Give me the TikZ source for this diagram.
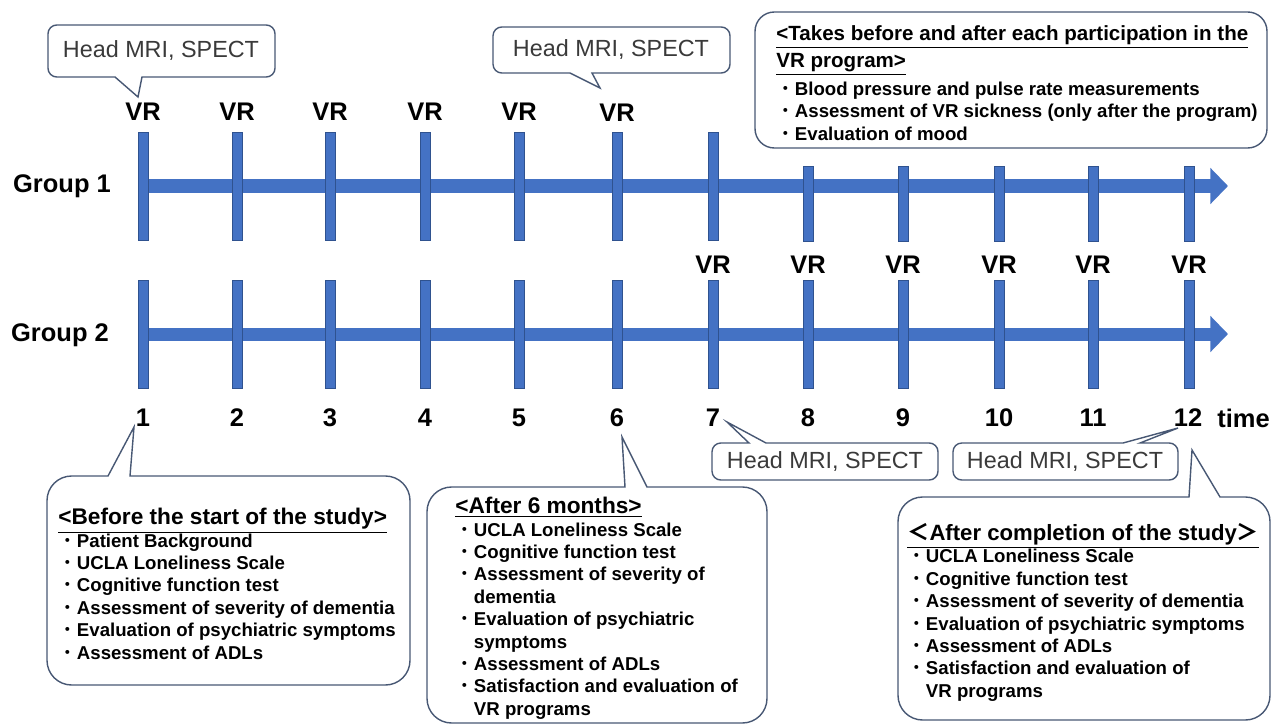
\documentclass[tikz,border=0pt]{standalone}
\usepackage{fontspec}
\setmainfont{Liberation Sans}
\newfontfamily\jpfont{Noto Sans CJK JP}
\usepackage{tikz}
\usetikzlibrary{arrows.meta}

\definecolor{barblue}{RGB}{68,114,196}
\definecolor{tickedge}{RGB}{47,82,143}
\definecolor{boxline}{RGB}{72,88,116}
\definecolor{mrigray}{RGB}{58,58,58}

\newcommand{\bul}{{\jpfont\mdseries ・}}
\newcommand{\ind}{\phantom{\bul}}
\newcommand{\head}[2][12.9]{{\fontsize{#1}{12.75}\selectfont\underline{#2}}}

\tikzset{
  vtick/.style={draw=tickedge, line width=0.4pt, fill=barblue, minimum width=0.2cm, minimum height=2.16cm, inner sep=0pt},
  vtickshort/.style={vtick, minimum height=1.5cm},
  timeaxis/.style={barblue, line width=7.4pt, -{Triangle[width=20pt,length=10pt]}},
  bigtxt/.style={font=\bfseries\fontsize{14.5}{17}\selectfont, inner sep=0pt},
  mritxt/.style={font=\fontsize{13.3}{15}\selectfont, text=mrigray, inner sep=0pt},
  bubble/.style={draw=boxline, line width=0.8pt, fill=white},
  itemlist/.style={font=\bfseries\fontsize{10.6}{12.75}\selectfont, align=left, anchor=north west, inner sep=0pt},
}

\begin{document}
\begin{tikzpicture}[x=0.02cm, y=-0.02cm]
\useasboundingbox (0,0) rectangle (1273,726);
% time axes
    \coordinate (g1start) at (143,186);
    \coordinate (g1end) at (1228,186);
    \coordinate (g2start) at (143,334);
    \coordinate (g2end) at (1228,334);
    \draw[timeaxis] (g1start) -- (g1end);
    \draw[timeaxis] (g2start) -- (g2end);
% group 1 ticks
    \node[vtick] (a1) at (143,186) {};
    \node[vtick] (a2) at (237,186) {};
    \node[vtick] (a3) at (330,186) {};
    \node[vtick] (a4) at (425,186) {};
    \node[vtick] (a5) at (519,186) {};
    \node[vtick] (a6) at (617,186) {};
    \node[vtick] (a7) at (713,186) {};
    \node[vtickshort] (a8) at (808,203.5) {};
    \node[vtickshort] (a9) at (903,203.5) {};
    \node[vtickshort] (a10) at (999,203.5) {};
    \node[vtickshort] (a11) at (1093,203.5) {};
    \node[vtickshort] (a12) at (1189,203.5) {};
% group 2 ticks
    \node[vtick] (b1) at (143,334) {};
    \node[vtick] (b2) at (237,334) {};
    \node[vtick] (b3) at (330,334) {};
    \node[vtick] (b4) at (425,334) {};
    \node[vtick] (b5) at (519,334) {};
    \node[vtick] (b6) at (617,334) {};
    \node[vtick] (b7) at (713,334) {};
    \node[vtick] (b8) at (808,334) {};
    \node[vtick] (b9) at (903,334) {};
    \node[vtick] (b10) at (999,334) {};
    \node[vtick] (b11) at (1093,334) {};
    \node[vtick] (b12) at (1189,334) {};
% group names
    \node[bigtxt, anchor=base] (grp1) at (62,193) {Group 1};
    \node[bigtxt, anchor=base] (grp2) at (60,341) {Group 2};
% VR sessions
    \node[bigtxt] (vra1) at (143,112) {VR};
    \node[bigtxt] (vra2) at (237,112) {VR};
    \node[bigtxt] (vra3) at (330,112) {VR};
    \node[bigtxt] (vra4) at (425,112) {VR};
    \node[bigtxt] (vra5) at (519,112) {VR};
    \node[bigtxt] (vra6) at (617,113) {VR};
    \node[bigtxt] (vrb7) at (713,265) {VR};
    \node[bigtxt] (vrb8) at (808,265) {VR};
    \node[bigtxt] (vrb9) at (903,265) {VR};
    \node[bigtxt] (vrb10) at (999,265) {VR};
    \node[bigtxt] (vrb11) at (1093,265) {VR};
    \node[bigtxt] (vrb12) at (1189,265) {VR};
% time steps
    \node[bigtxt] (n1) at (143,418) {1};
    \node[bigtxt] (n2) at (237,418) {2};
    \node[bigtxt] (n3) at (330,418) {3};
    \node[bigtxt] (n4) at (425,418) {4};
    \node[bigtxt] (n5) at (519,418) {5};
    \node[bigtxt] (n6) at (617,418) {6};
    \node[bigtxt] (n7) at (713,418) {7};
    \node[bigtxt] (n8) at (808,418) {8};
    \node[bigtxt] (n9) at (903,418) {9};
    \node[bigtxt] (n10) at (999,418) {10};
    \node[bigtxt] (n11) at (1093,418) {11};
    \node[bigtxt] (n12) at (1188,418) {12};
    \node[bigtxt, anchor=west] (time) at (1217,418) {time};
% callout tips
    \coordinate (tipA) at (138,97);
    \coordinate (tipB) at (600,88);
    \coordinate (tipC) at (727,422);
    \coordinate (tipD) at (1178,428);
    \coordinate (tipF) at (134,427);
    \coordinate (tipG) at (622,437);
    \coordinate (tipH) at (1192,450);
% head MRI callouts
    \draw[bubble, rounded corners=5pt] (161,25) -- (275,25) -- (275,77) [sharp corners] -- (142,77)
        -- (tipA) -- (115,77) [rounded corners=5pt] -- (48,77) -- (48,25) -- cycle;
    \draw[bubble, rounded corners=5pt] (611,27) -- (730,27) -- (730,73) [sharp corners] -- (592,73)
        -- (tipB) -- (570,73) [rounded corners=5pt] -- (493,73) -- (493,27) -- cycle;
    \draw[bubble, rounded corners=5pt] (825,480) -- (712,480) -- (712,443) [sharp corners] -- (749,443)
        -- (tipC) -- (766,443) [rounded corners=5pt] -- (938,443) -- (938,480) -- cycle;
    \draw[bubble, rounded corners=5pt] (1065,480) -- (953,480) -- (953,443) [sharp corners] -- (1123,443)
        -- (tipD) -- (1140,443) [rounded corners=5pt] -- (1178,443) -- (1178,480) -- cycle;
    \node[mritxt] (mriA) at (161,51) {Head MRI, SPECT};
    \node[mritxt] (mriB) at (611,50) {Head MRI, SPECT};
    \node[mritxt] (mriC) at (825,462) {Head MRI, SPECT};
    \node[mritxt] (mriD) at (1065,462) {Head MRI, SPECT};
% every VR session
    \draw[bubble, rounded corners=11pt] (755,12) rectangle (1267,148);
    \node[itemlist] (session) at (776,25) {\head[11.7]{<Takes before and after each participation in the}\\[3pt]
        \head[11.7]{VR program>}\\[3pt]
        \bul Blood pressure and pulse rate measurements\\
        \bul Assessment of VR sickness (only after the program)\\
        \bul Evaluation of mood};
% assessment boxes
    \draw[bubble, rounded corners=14pt] (228,685) -- (47,685) -- (47,476) [sharp corners] -- (108,476)
        -- (tipF) -- (130,476) [rounded corners=14pt] -- (410,476) -- (410,685) -- cycle;
    \draw[bubble, rounded corners=14pt] (597,723) -- (427,723) -- (427,487) [sharp corners] -- (625,487)
        -- (tipG) -- (647,487) [rounded corners=14pt] -- (767,487) -- (767,723) -- cycle;
    \draw[bubble, rounded corners=14pt] (1084,720) -- (898,720) -- (898,497) [sharp corners] -- (1189,497)
        -- (tipH) -- (1220,497) [rounded corners=14pt] -- (1270,497) -- (1270,720) -- cycle;
    \node[itemlist] (before) at (58,508) {\head{<Before the start of the study>}\\
        \bul Patient Background\\
        \bul UCLA Loneliness Scale\\
        \bul Cognitive function test\\
        \bul Assessment of severity of dementia\\
        \bul Evaluation of psychiatric symptoms\\
        \bul Assessment of ADLs};
    \node[itemlist] (sixmonths) at (455,497) {\head{<After 6 months>}\\
        \bul UCLA Loneliness Scale\\
        \bul Cognitive function test\\
        \bul Assessment of severity of\\
        \ind dementia\\
        \bul Evaluation of psychiatric\\
        \ind symptoms\\
        \bul Assessment of ADLs\\
        \bul Satisfaction and evaluation of\\
        \ind VR programs};
    \node[itemlist] (completion) at (907,523) {\head[12.6]{{\jpfont ＜}After completion of the study{\jpfont ＞}}\\
        \bul UCLA Loneliness Scale\\
        \bul Cognitive function test\\
        \bul Assessment of severity of dementia\\
        \bul Evaluation of psychiatric symptoms\\
        \bul Assessment of ADLs\\
        \bul Satisfaction and evaluation of\\
        \ind VR programs};
\end{tikzpicture}
\end{document}
